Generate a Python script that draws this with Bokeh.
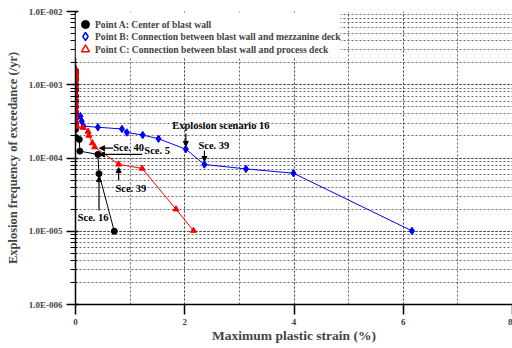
from bokeh.plotting import figure
from bokeh.models import (Range1d, LogTicker, SingleIntervalTicker, CustomJSTickFormatter,
                          Legend, LegendItem, Arrow, NormalHead, Label, ColumnDataSource,
                          BoxAnnotation)
from bokeh.embed import file_html
from bokeh.resources import INLINE

# ---------------- data ----------------
A_x = [0, 0, 0, 0, 0, 0, 0, 0, 0, 0, 0, 0, 0.01, 0.07, 0.08, 0.41, 0.43, 0.71]
A_y = [1.55e-3, 1.4e-3, 1.2e-3, 1.0e-3, 8.5e-4, 7e-4, 6e-4, 5e-4, 4.2e-4, 3.5e-4, 3.0e-4,
       2.45e-4, 1.9e-4, 1.79e-4, 1.24e-4, 1.12e-4, 6.1e-5, 1.0e-5]

B_x = [0, 0, 0, 0, 0, 0, 0, 0, 0, 0, 0, 0, 0.09, 0.115, 0.146, 0.41, 0.85, 0.94, 1.23, 1.52,
       2.02, 2.36, 3.12, 3.99, 6.16]
B_y = [1.6e-3, 1.45e-3, 1.3e-3, 1.15e-3, 1.0e-3, 9e-4, 8e-4, 7e-4, 6.2e-4, 5.5e-4, 4.9e-4, 4.4e-4,
       3.72e-4, 3.18e-4, 2.72e-4, 2.63e-4, 2.49e-4, 2.23e-4, 2.06e-4, 1.83e-4,
       1.32e-4, 8.15e-5, 7.1e-5, 6.2e-5, 1.01e-5]

C_x = [0, 0, 0, 0, 0, 0, 0, 0, 0, 0, 0, 0, 0, 0, 0, 0, 0, 0, 0.02, 0.14, 0.23, 0.245, 0.31,
       0.35, 0.79, 1.22, 1.84, 2.16]
C_y = [1.65e-3, 1.55e-3, 1.45e-3, 1.35e-3, 1.25e-3, 1.15e-3, 1.05e-3, 9.5e-4, 8.5e-4, 7.5e-4,
       6.5e-4, 5.8e-4, 5.2e-4, 4.6e-4, 4.1e-4, 3.6e-4, 3.2e-4, 2.9e-4, 2.69e-4, 2.61e-4, 2.3e-4,
       2.03e-4, 1.6e-4, 1.41e-4, 8.2e-5, 7.2e-5, 2.0e-5, 1.02e-5]

series_labels = ["Point A: Center of blast wall",
                 "Point B: Connection between blast wall and mezzanine deck",
                 "Point C: Connection between blast wall and process deck"]

# annotations: text, text x, text y, arrow start (x, y), arrow end (x, y)
ann_text = ["Sce. 40", "Sce. 5", "Explosion scenario 16", "Sce. 39", "Sce. 39", "Sce. 16"]
ann_tx = [0.69, 1.26, 1.77, 2.25, 0.73, 0.04]
ann_ty = [1.40e-4, 1.27e-4, 2.78e-4, 1.48e-4, 3.84e-5, 1.54e-5]
arr_x0 = [0.69, 1.22, 2.02, 2.36, 0.79, 0.43]
arr_y0 = [1.36e-4, 1.12e-4, 2.16e-4, 1.26e-4, 4.93e-5, 1.92e-5]
arr_x1 = [0.44, 0.44, 2.02, 2.36, 0.79, 0.43]
arr_y1 = [1.36e-4, 1.12e-4, 1.44e-4, 8.95e-5, 7.4e-5, 5.58e-5]

FONT = "Liberation Serif"
NAN = float("nan")

p = figure(width=512, height=348, output_backend="svg", toolbar_location=None,
           y_axis_type="log", x_range=Range1d(0, 8), y_range=Range1d(1e-6, 1e-2),
           min_border_left=75, min_border_right=0, min_border_top=11, min_border_bottom=44)
p.outline_line_color = None
p.background_fill_color = "white"

# axes
p.xaxis.ticker = SingleIntervalTicker(interval=2, num_minor_ticks=2)
p.yaxis.ticker = LogTicker(num_minor_ticks=10)
p.yaxis.formatter = CustomJSTickFormatter(code="""
const e = Math.round(Math.log10(tick));
const s = e < 0 ? '-' : '+';
return '1.0E' + s + String(Math.abs(e)).padStart(3, '0');
""")
for ax in (p.xaxis[0], p.yaxis[0]):
    ax.axis_line_width = 1.5
    ax.major_tick_line_width = 1.5
    ax.minor_tick_line_width = 1
    ax.major_label_text_font = FONT
    ax.major_label_text_font_style = "bold"
    ax.major_label_text_font_size = "9px"
    ax.axis_label_text_font = FONT
    ax.axis_label_text_font_style = "bold"
p.xaxis.axis_label = "Maximum plastic strain (%)"
p.yaxis.axis_label = "Explosion frequency of exceedance (/yr)"
p.xaxis.axis_label_text_font_size = "13.5px"
p.yaxis.axis_label_text_font_size = "12.5px"
p.xaxis.major_tick_out = 10
p.xaxis.major_tick_in = 0
p.xaxis.minor_tick_out = 0
p.xaxis.minor_tick_in = 0
p.xaxis.major_label_standoff = 4
p.xaxis.axis_label_standoff = 0
p.yaxis.major_tick_out = 9
p.yaxis.major_tick_in = 3
p.yaxis.minor_tick_out = 5
p.yaxis.minor_tick_in = 2
p.yaxis.major_label_standoff = 4
p.yaxis.axis_label_standoff = 6

# grids
for g in (p.xgrid[0], p.ygrid[0]):
    g.grid_line_color = "#444444"
    g.grid_line_dash = "2 2"
    g.grid_line_width = 1
    g.grid_line_alpha = 0.8
    g.minor_grid_line_color = "#444444"
    g.minor_grid_line_dash = "2 2"
    g.minor_grid_line_width = 1
    g.minor_grid_line_alpha = 0.8

# series
srcA = ColumnDataSource(dict(x=A_x, y=A_y))
srcB = ColumnDataSource(dict(x=B_x, y=B_y))
srcC = ColumnDataSource(dict(x=C_x, y=C_y))

p.line("x", "y", source=srcA, color="black", line_width=1)
p.scatter("x", "y", source=srcA, marker="circle", size=6, color="black")
p.line("x", "y", source=srcB, color="#0000ff", line_width=1)
p.scatter("x", "y", source=srcB, marker="diamond", size=7.5, color="#0000ff")
p.line("x", "y", source=srcC, color="#ff0000", line_width=1)
p.scatter("x", "y", source=srcC, marker="triangle", size=6, color="#ff0000")

# white legend panel (hides the grid behind the legend, keeps the top line)
p.add_layout(BoxAnnotation(left=0, right=4.85, top=9.5e-3, bottom=2.3e-3,
                           fill_color="white", fill_alpha=1.0, line_color=None))

# legend glyphs (open markers, no visible data)
lgA = p.scatter("x", "y", source=ColumnDataSource(dict(x=[NAN], y=[NAN])), marker="circle",
                fill_color="black", line_color="black")
lgB = p.scatter("x", "y", source=ColumnDataSource(dict(x=[NAN], y=[NAN])), marker="diamond",
                fill_color="white", line_color="#0000ff", line_width=1.4)
lgC = p.scatter("x", "y", source=ColumnDataSource(dict(x=[NAN], y=[NAN])), marker="triangle",
                fill_color="white", line_color="#ff0000", line_width=1.4)

for lbl, rend, yoff in zip(series_labels, [lgA, lgB, lgC], [270, 258, 245]):
    lg = Legend(items=[LegendItem(label=lbl, renderers=[rend], index=0)],
                location=(0, yoff), margin=0, padding=0, spacing=0,
                glyph_width=20, glyph_height=20, label_height=20, label_standoff=0,
                label_text_font=FONT, label_text_font_style="bold",
                label_text_font_size="9.6px", border_line_color=None,
                background_fill_alpha=0.0)
    p.add_layout(lg, "center")

# annotations
for i in range(len(ann_text)):
    p.add_layout(Arrow(end=NormalHead(size=5, fill_color="black", line_color="black", line_width=1),
                       x_start=arr_x0[i], y_start=arr_y0[i], x_end=arr_x1[i], y_end=arr_y1[i],
                       line_color="black", line_width=1.2))
    p.add_layout(Label(x=ann_tx[i], y=ann_ty[i], text=ann_text[i], text_font=FONT,
                       text_font_style="bold", text_font_size="10.5px",
                       text_baseline="middle", text_align="left", text_color="black"))

open("out.html", "w").write(file_html(p, INLINE))
